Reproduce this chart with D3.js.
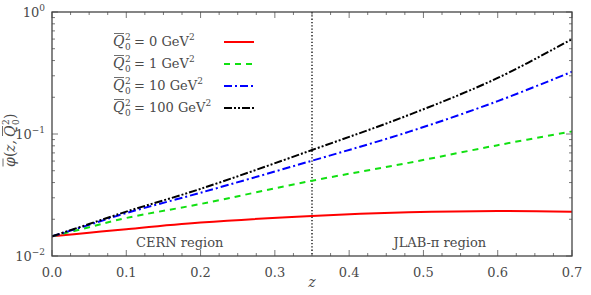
<!DOCTYPE html>
<html>
<head>
<meta charset="utf-8">
<script src="https://cdn.jsdelivr.net/npm/d3@7"></script>
<style>
  body { margin: 0; background: #fff; }
  svg text { font-family: "DejaVu Serif", serif; }
</style>
</head>
<body>
<svg id="chart"></svg>
<script>
var zValues = [0, 0.05, 0.1, 0.2, 0.35, 0.48, 0.6, 0.7];

var phiQ0 = [0.0145, 0.0155, 0.0166, 0.0188, 0.0213, 0.0228, 0.0234, 0.0231];
var phiQ1 = [0.0145, 0.0172, 0.0205, 0.0267, 0.0414, 0.058, 0.081, 0.105];
var phiQ10 = [0.0145, 0.018, 0.0225, 0.0330, 0.0604, 0.104, 0.186, 0.324];
var phiQ100 = [0.0145, 0.0183, 0.0231, 0.0355, 0.0739, 0.143, 0.288, 0.60];

var seriesNames = ["0", "1", "10", "100"];
var xTicks = [0, 0.1, 0.2, 0.3, 0.4, 0.5, 0.6, 0.7];
var yTicks = [0.01, 0.1, 1];
var zSplit = 0.35;

var screen = { width: 591, height: 295 };
var margins = { top: 12, bottom: 39, left: 52, right: 19 };

var graphWidth = screen.width - margins.left - margins.right;
var graphHeight = screen.height - margins.top - margins.bottom;
var ink = "#4a4a4a";

var svg = d3.select("#chart")
  .attr("width", screen.width)
  .attr("height", screen.height)
  .attr("fill", ink);

var xScale = d3.scaleLinear().domain([0, 0.7]).range([0, graphWidth]);
var yScale = d3.scaleLog().domain([0.01, 1]).range([graphHeight, 0]);

var plot = svg.append("g")
  .attr("transform", "translate(" + margins.left + "," + margins.top + ")");

var styles = [
  { color: "#ff0000", dash: null },
  { color: "#11e011", dash: "6,5" },
  { color: "#0000ff", dash: "8,3,2,3" },
  { color: "#000000", dash: "8,2,2,2,2,2" }
];
var allSeries = [phiQ0, phiQ1, phiQ10, phiQ100];

var line = d3.line()
  .x(function(d, i) { return xScale(zValues[i]); })
  .y(function(d) { return yScale(d); })
  .curve(d3.curveCatmullRom.alpha(0.5));

plot.append("defs").append("clipPath").attr("id", "clip")
  .append("rect").attr("width", graphWidth).attr("height", graphHeight);

// dotted split line
plot.append("line")
  .attr("x1", xScale(zSplit)).attr("x2", xScale(zSplit))
  .attr("y1", 0).attr("y2", graphHeight)
  .attr("stroke", "#000").attr("stroke-width", 1.3)
  .attr("stroke-dasharray", "1.3,2");

plot.selectAll(".curve")
  .data(allSeries)
  .enter()
  .append("path")
  .attr("class", "curve")
  .attr("clip-path", "url(#clip)")
  .attr("d", line)
  .attr("fill", "none")
  .attr("stroke", function(d, i) { return styles[i].color; })
  .attr("stroke-width", 2)
  .attr("stroke-dasharray", function(d, i) { return styles[i].dash; });

// ticks, inward on all sides
var xMinor = d3.range(0, 0.7001, 0.025);
var yMinor = [];
[0.01, 0.1].forEach(function(b) {
  for (var k = 2; k <= 9; k++) yMinor.push(b * k);
});

var tickColor = "#555";
function tick(x1, y1, x2, y2) {
  plot.append("line").attr("x1", x1).attr("y1", y1).attr("x2", x2).attr("y2", y2)
    .attr("stroke", tickColor).attr("stroke-width", 0.8);
}
xMinor.forEach(function(v) {
  var major = Math.abs(v * 10 - Math.round(v * 10)) < 1e-6;
  var len = major ? 6 : 3;
  tick(xScale(v), graphHeight, xScale(v), graphHeight - len);
  tick(xScale(v), 0, xScale(v), len);
});
yTicks.forEach(function(v) {
  tick(0, yScale(v), 6, yScale(v));
  tick(graphWidth, yScale(v), graphWidth - 6, yScale(v));
});
yMinor.forEach(function(v) {
  tick(0, yScale(v), 3, yScale(v));
  tick(graphWidth, yScale(v), graphWidth - 3, yScale(v));
});

// frame
plot.append("rect")
  .attr("width", graphWidth).attr("height", graphHeight)
  .attr("fill", "none").attr("stroke", "#444").attr("stroke-width", 1.3);

// x tick labels
plot.selectAll(".xlab")
  .data(xTicks)
  .enter()
  .append("text")
  .attr("x", function(d) { return xScale(d); })
  .attr("y", graphHeight + 21)
  .attr("text-anchor", "middle")
  .attr("font-size", 13)
  .text(function(d) { return d.toFixed(1); });

// y tick labels 10^n
yTicks.forEach(function(v) {
  var e = Math.round(Math.log10(v));
  var t = plot.append("text")
    .attr("x", -7).attr("y", yScale(v) + 5)
    .attr("text-anchor", "end")
    .attr("font-size", 13);
  t.append("tspan").text("10");
  t.append("tspan").attr("dy", -6).attr("font-size", 9).text(e === 0 ? "0" : "\u2212" + (-e));
});

// axis labels
svg.append("text")
  .attr("x", margins.left + xScale(0.35)).attr("y", 287)
  .attr("text-anchor", "middle").attr("font-size", 14).attr("font-style", "italic")
  .text("z");

var yl = svg.append("g").attr("transform", "translate(15," + (margins.top + graphHeight / 2 + 33) + ") rotate(-90)");
yl.append("text").attr("x", 0).attr("y", 0).attr("font-size", 14).attr("font-style", "italic").text("\u03C6");
yl.append("line").attr("x1", 0.5).attr("x2", 8.5).attr("y1", -12).attr("y2", -12).attr("stroke", ink).attr("stroke-width", 0.8);
yl.append("text").attr("x", 10).attr("y", 0).attr("font-size", 14).text("(");
yl.append("text").attr("x", 15).attr("y", 0).attr("font-size", 14).attr("font-style", "italic").text("z,");
yl.append("text").attr("x", 30).attr("y", 0).attr("font-size", 14).attr("font-style", "italic").text("Q");
yl.append("line").attr("x1", 31).attr("x2", 41).attr("y1", -12.5).attr("y2", -12.5).attr("stroke", ink).attr("stroke-width", 0.8);
yl.append("text").attr("x", 42).attr("y", -6).attr("font-size", 9).text("2");
yl.append("text").attr("x", 42).attr("y", 4).attr("font-size", 9).text("0");
yl.append("text").attr("x", 48).attr("y", 0).attr("font-size", 14).text(")");

// region labels
plot.append("text").attr("x", xScale(0.172)).attr("y", graphHeight - 9)
  .attr("text-anchor", "middle").attr("font-size", 13).text("CERN region");
plot.append("text").attr("x", xScale(0.522)).attr("y", graphHeight - 9)
  .attr("text-anchor", "middle").attr("font-size", 13).text("JLAB-\u03C0 region");

// legend
var legend = svg.append("g").attr("transform", "translate(113,46)");
seriesNames.forEach(function(name, i) {
  var g = legend.append("g").attr("transform", "translate(0," + (i * 22) + ")");
  g.append("text").attr("x", 0).attr("y", 0).attr("font-size", 14).attr("font-style", "italic").text("Q");
  g.append("line").attr("x1", 1).attr("x2", 11).attr("y1", -12.5).attr("y2", -12.5)
    .attr("stroke", ink).attr("stroke-width", 0.8);
  g.append("text").attr("x", 12).attr("y", -6).attr("font-size", 9).text("2");
  g.append("text").attr("x", 12).attr("y", 4).attr("font-size", 9).text("0");
  var t = g.append("text").attr("x", 21).attr("y", 0).attr("font-size", 13);
  t.append("tspan").text("= " + name + " GeV");
  t.append("tspan").attr("dy", -6).attr("font-size", 9).text("2");
  g.append("line").attr("x1", 111).attr("x2", 141).attr("y1", -4).attr("y2", -4)
    .attr("stroke", styles[i].color).attr("stroke-width", 2)
    .attr("stroke-dasharray", styles[i].dash);
});
</script>
</body>
</html>
